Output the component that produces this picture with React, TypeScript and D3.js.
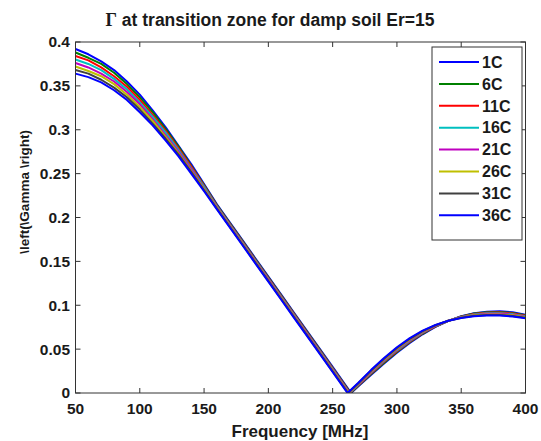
import React from "react";
import * as d3 from "d3";

const freqs = [50,60,70,80,90,100,110,120,130,140,150,160,170,180,190,200,210,220,230,240,250,260,270,280,290,300,310,320,330,340,350,360,370,380,390,400];
const labels = ["1C","6C","11C","16C","21C","26C","31C","36C"];
const colors = ["#0000ff","#008000","#ff0000","#00bfbf","#bf00bf","#bfbf00","#404040","#0000ff"];
// frequency (MHz) where each curve touches zero
const zeroFreqs = [264.4, 264.0, 263.6, 263.2, 262.8, 262.4, 262.0, 261.6];

const s1C = [0.392,0.386,0.378,0.368,0.355,0.340,0.322,0.303,0.282,0.261,0.238,0.2151,0.1945,0.1739,0.1533,0.1327,0.1121,0.0915,0.0709,0.0503,0.0297,0.0091,0.0078,0.0208,0.0337,0.0459,0.0570,0.0669,0.0754,0.0822,0.0876,0.0910,0.0926,0.0931,0.0920,0.0893];
const s6C = [0.388,0.382,0.375,0.365,0.352,0.337,0.320,0.301,0.281,0.259,0.237,0.2142,0.1936,0.1730,0.1524,0.1318,0.1112,0.0906,0.0700,0.0494,0.0288,0.0082,0.0083,0.0216,0.0346,0.0468,0.0578,0.0675,0.0758,0.0822,0.0873,0.0905,0.0920,0.0924,0.0913,0.0887];
const s11C = [0.384,0.379,0.371,0.361,0.349,0.334,0.317,0.299,0.279,0.258,0.236,0.2134,0.1928,0.1722,0.1516,0.1310,0.1104,0.0898,0.0692,0.0486,0.0280,0.0074,0.0089,0.0224,0.0355,0.0477,0.0586,0.0681,0.0760,0.0823,0.0870,0.0900,0.0914,0.0917,0.0906,0.0881];
const s16C = [0.380,0.375,0.368,0.358,0.346,0.331,0.315,0.297,0.277,0.256,0.235,0.2126,0.1920,0.1714,0.1508,0.1302,0.1096,0.0890,0.0684,0.0478,0.0272,0.0066,0.0095,0.0232,0.0364,0.0486,0.0594,0.0687,0.0764,0.0823,0.0867,0.0895,0.0908,0.0910,0.0899,0.0875];
const s21C = [0.376,0.371,0.364,0.355,0.343,0.329,0.312,0.294,0.275,0.255,0.233,0.2118,0.1912,0.1706,0.1500,0.1294,0.1088,0.0882,0.0676,0.0470,0.0264,0.0058,0.0100,0.0240,0.0373,0.0495,0.0602,0.0693,0.0766,0.0823,0.0864,0.0890,0.0902,0.0903,0.0892,0.0869];
const s26C = [0.372,0.367,0.361,0.352,0.340,0.326,0.310,0.292,0.273,0.253,0.232,0.2109,0.1903,0.1697,0.1491,0.1285,0.1079,0.0873,0.0667,0.0461,0.0255,0.0049,0.0106,0.0248,0.0382,0.0504,0.0610,0.0699,0.0770,0.0823,0.0861,0.0885,0.0896,0.0896,0.0885,0.0863];
const s31C = [0.368,0.364,0.357,0.348,0.337,0.323,0.307,0.290,0.272,0.252,0.231,0.2101,0.1895,0.1689,0.1483,0.1277,0.1071,0.0865,0.0659,0.0453,0.0247,0.0041,0.0111,0.0256,0.0391,0.0513,0.0618,0.0705,0.0772,0.0824,0.0858,0.0880,0.0890,0.0889,0.0878,0.0857];
const s36C = [0.364,0.360,0.354,0.345,0.334,0.320,0.305,0.288,0.270,0.250,0.230,0.2093,0.1887,0.1681,0.1475,0.1269,0.1063,0.0857,0.0651,0.0445,0.0239,0.0033,0.0117,0.0264,0.0400,0.0522,0.0626,0.0711,0.0776,0.0824,0.0855,0.0875,0.0884,0.0882,0.0871,0.0851];
const seriesValues = [s1C, s6C, s11C, s16C, s21C, s26C, s31C, s36C];

const xTicks = [50,100,150,200,250,300,350,400];
const yTicks = [0,0.05,0.1,0.15,0.2,0.25,0.3,0.35,0.4];

const W = 541, H = 441;
const L = 75.5, R = 525.5, T = 42, B = 393;
const FONT = "'Liberation Sans', Arial, Helvetica, sans-serif";
const TXT = "#1a1a1a";

export default function App() {
  const x = d3.scaleLinear().domain([50, 400]).range([L, R]);
  const y = d3.scaleLinear().domain([0, 0.4]).range([B, T]);
  const line = d3.line<[number, number]>().x(d => x(d[0])).y(d => y(d[1]));

  const paths = seriesValues.map((vals, k) => {
    const pts: [number, number][] = [];
    freqs.forEach((f, i) => {
      if (i > 0 && freqs[i - 1] < zeroFreqs[k] && f > zeroFreqs[k]) pts.push([zeroFreqs[k], 0]);
      pts.push([f, vals[i]]);
    });
    return line(pts) || "";
  });

  const tickLen = 5;
  const legX = 432, legY = 47, legW = 90, legH = 193;
  const rowH = 21.9;

  return (
    <svg width={W} height={H} style={{ position: "absolute", left: 0, top: 0, background: "#fff" }} fontFamily={FONT}>
      <rect x={0} y={0} width={W} height={H} fill="#fff" />
      <defs>
        <clipPath id="plotclip"><rect x={L} y={T - 2} width={R - L} height={B - T + 2} /></clipPath>
      </defs>
      <g clipPath="url(#plotclip)">
        {paths.map((d, k) => (
          <path key={k} d={d} fill="none" stroke={colors[k]} strokeWidth={2} strokeLinejoin="round" />
        ))}
      </g>
      <rect x={L} y={T} width={R - L} height={B - T} fill="none" stroke="#333" strokeWidth={1} />
      {xTicks.map(t => (
        <g key={"x" + t}>
          <line x1={x(t)} x2={x(t)} y1={B} y2={B - tickLen} stroke="#333" />
          <line x1={x(t)} x2={x(t)} y1={T} y2={T + tickLen} stroke="#333" />
          <text x={x(t)} y={414} textAnchor="middle" fontSize={15.5} fontWeight="bold" fill={TXT}>{t}</text>
        </g>
      ))}
      {yTicks.map(t => (
        <g key={"y" + t}>
          <line x1={L} x2={L + tickLen} y1={y(t)} y2={y(t)} stroke="#333" />
          <line x1={R} x2={R - tickLen} y1={y(t)} y2={y(t)} stroke="#333" />
          <text x={70} y={y(t)} dy="0.35em" textAnchor="end" fontSize={15.5} fontWeight="bold" fill={TXT}>{String(t)}</text>
        </g>
      ))}
      <text x={270} y={26} textAnchor="middle" fontSize={17.5} fontWeight="bold" fill={TXT}>
        <tspan fontFamily="'Liberation Serif', serif" fontSize={18}>Γ</tspan> at transition zone for damp soil Er=15
      </text>
      <text x={300} y={437} textAnchor="middle" fontSize={17} fontWeight="bold" fill={TXT}>Frequency [MHz]</text>
      <text transform={`translate(29,192) rotate(-90)`} textAnchor="middle" fontSize={13.5} fontWeight="bold" fill={TXT}>\left(\Gamma \right)</text>
      <rect x={legX} y={legY} width={legW} height={legH} fill="#fff" stroke="#333" strokeWidth={1} />
      {labels.map((lab, k) => (
        <g key={lab}>
          <line x1={439} x2={479} y1={62 + k * rowH} y2={62 + k * rowH} stroke={colors[k]} strokeWidth={2} />
          <text x={482} y={62 + k * rowH} dy="0.36em" fontSize={16} fontWeight="bold" fill={TXT}>{lab}</text>
        </g>
      ))}
    </svg>
  );
}
